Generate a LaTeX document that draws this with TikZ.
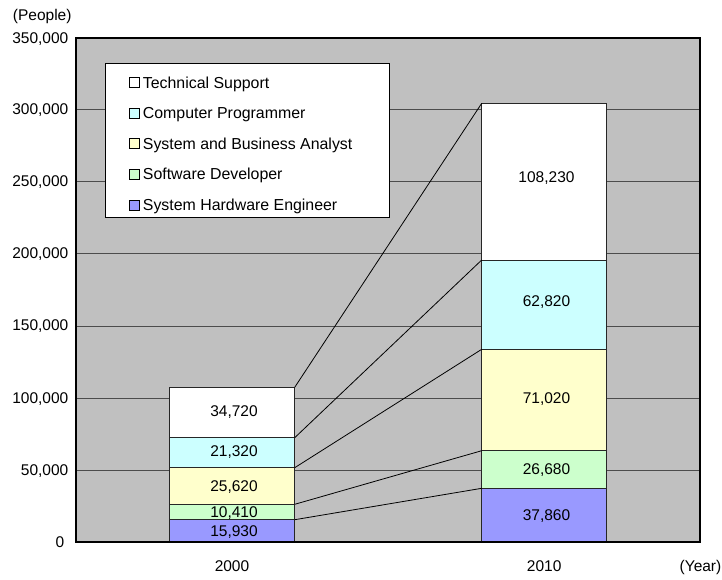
\documentclass[tikz,border=0pt]{standalone}
\usepackage{fontspec}
\setmainfont{Liberation Sans}
\definecolor{plotgray}{RGB}{192,192,192}
\definecolor{cTech}{RGB}{255,255,255}
\definecolor{cProg}{RGB}{204,255,255}
\definecolor{cAnal}{RGB}{255,255,204}
\definecolor{cSoft}{RGB}{204,255,204}
\definecolor{cHard}{RGB}{153,153,255}
\tikzset{
  lbl/.style={font=\fontsize{15.5}{18}\selectfont, inner sep=0pt, text height=11.1pt, text depth=0pt},
  keylbl/.style={font=\fontsize{15.9}{18}\selectfont, inner sep=0pt, text height=11.4pt, text depth=0pt},
  seg/.style={draw=black!85, line width=0.9pt},
  gridline/.style={draw=black!70, line width=0.9pt},
  link/.style={draw=black, line width=0.8pt},
  keybox/.style={draw=black, line width=0.8pt},
}
\begin{document}
\begin{tikzpicture}[x=1pt,y=-1pt]
\useasboundingbox (0,0) rectangle (722,579);

% plot area and horizontal grid
\fill[plotgray] (76,38.3) rectangle (700,542.3);
\foreach \g in {109.3,181.7,253.3,326,398.3,470}
  \draw[gridline] (76,\g) -- (700,\g);

% column for 2000
\draw[seg,fill=cHard] (169.3,542.3) rectangle (294.7,519.7);
\draw[seg,fill=cSoft] (169.3,519.7) rectangle (294.7,504.3);
\draw[seg,fill=cAnal] (169.3,504.3) rectangle (294.7,467.7);
\draw[seg,fill=cProg] (169.3,467.7) rectangle (294.7,437.7);
\draw[seg,fill=cTech] (169.3,437.7) rectangle (294.7,387.3);

% column for 2010
\draw[seg,fill=cHard] (481.7,542.3) rectangle (606.7,488.3);
\draw[seg,fill=cSoft] (481.7,488.3) rectangle (606.7,450.7);
\draw[seg,fill=cAnal] (481.7,450.7) rectangle (606.7,349.3);
\draw[seg,fill=cProg] (481.7,349.3) rectangle (606.7,260);
\draw[seg,fill=cTech] (481.7,260) rectangle (606.7,103.3);

% segment tops used by the series lines
\coordinate (a1) at (294.7,519.7);
\coordinate (a2) at (294.7,504.3);
\coordinate (a3) at (294.7,467.7);
\coordinate (a4) at (294.7,437.7);
\coordinate (a5) at (294.7,387.3);
\coordinate (b1) at (481.7,488.3);
\coordinate (b2) at (481.7,450.7);
\coordinate (b3) at (481.7,349.3);
\coordinate (b4) at (481.7,260);
\coordinate (b5) at (481.7,103.3);
\foreach \i in {1,...,5} \draw[link] (a\i) -- (b\i);

% value labels
\node[lbl] (v2000a) at (234,530.7) {15,930};
\node[lbl] (v2000b) at (234,511.7) {10,410};
\node[lbl] (v2000c) at (234,485.5) {25,620};
\node[lbl] (v2000d) at (234,451.2) {21,320};
\node[lbl] (v2000e) at (234,410.8) {34,720};
\node[lbl] (v2010a) at (546.5,515) {37,860};
\node[lbl] (v2010b) at (546.5,469) {26,680};
\node[lbl] (v2010c) at (546.5,397.5) {71,020};
\node[lbl] (v2010d) at (546.5,300.8) {62,820};
\node[lbl] (v2010e) at (546.5,177) {108,230};

% legend
\draw[fill=white, line width=0.9pt] (105,63.3) rectangle (389,217.3);
\foreach \i/\y/\c/\t in {1/82.4/cTech/Technical Support,
                         2/113.2/cProg/Computer Programmer,
                         3/143.6/cAnal/System and Business Analyst,
                         4/174.2/cSoft/Software Developer,
                         5/205.1/cHard/System Hardware Engineer}{
  \draw[keybox,fill=\c] (129,\y-4.8) rectangle (139,\y+4.8);
  \node[keylbl,anchor=west] (key\i) at (142.7,\y) {\t};
}

% frame of the plot area
\draw[line width=2pt] (76,38.3) rectangle (700,542.3);

% value axis
\node[lbl,anchor=east] (t350) at (68.5,37.6) {350,000};
\node[lbl,anchor=east] (t300) at (68.5,108.6) {300,000};
\node[lbl,anchor=east] (t250) at (68.5,181.0) {250,000};
\node[lbl,anchor=east] (t200) at (68.5,252.6) {200,000};
\node[lbl,anchor=east] (t150) at (68.5,325.3) {150,000};
\node[lbl,anchor=east] (t100) at (68.5,397.6) {100,000};
\node[lbl,anchor=east] (t050) at (68.5,470.2) {50,000};
\node[lbl,anchor=east] (t000) at (64.5,541.8) {0};
\node[font=\fontsize{15.5}{18}\selectfont, inner sep=0pt, anchor=base west] (unit) at (12.7,20) {(People)};

% category axis
\node[lbl] (y2000) at (232,566.3) {2000};
\node[lbl] (y2010) at (544.2,566.3) {2010};
\node[font=\fontsize{15.5}{18}\selectfont, inner sep=0pt, anchor=base east] (yr) at (721.5,571.8) {(Year)};
\end{tikzpicture}
\end{document}
